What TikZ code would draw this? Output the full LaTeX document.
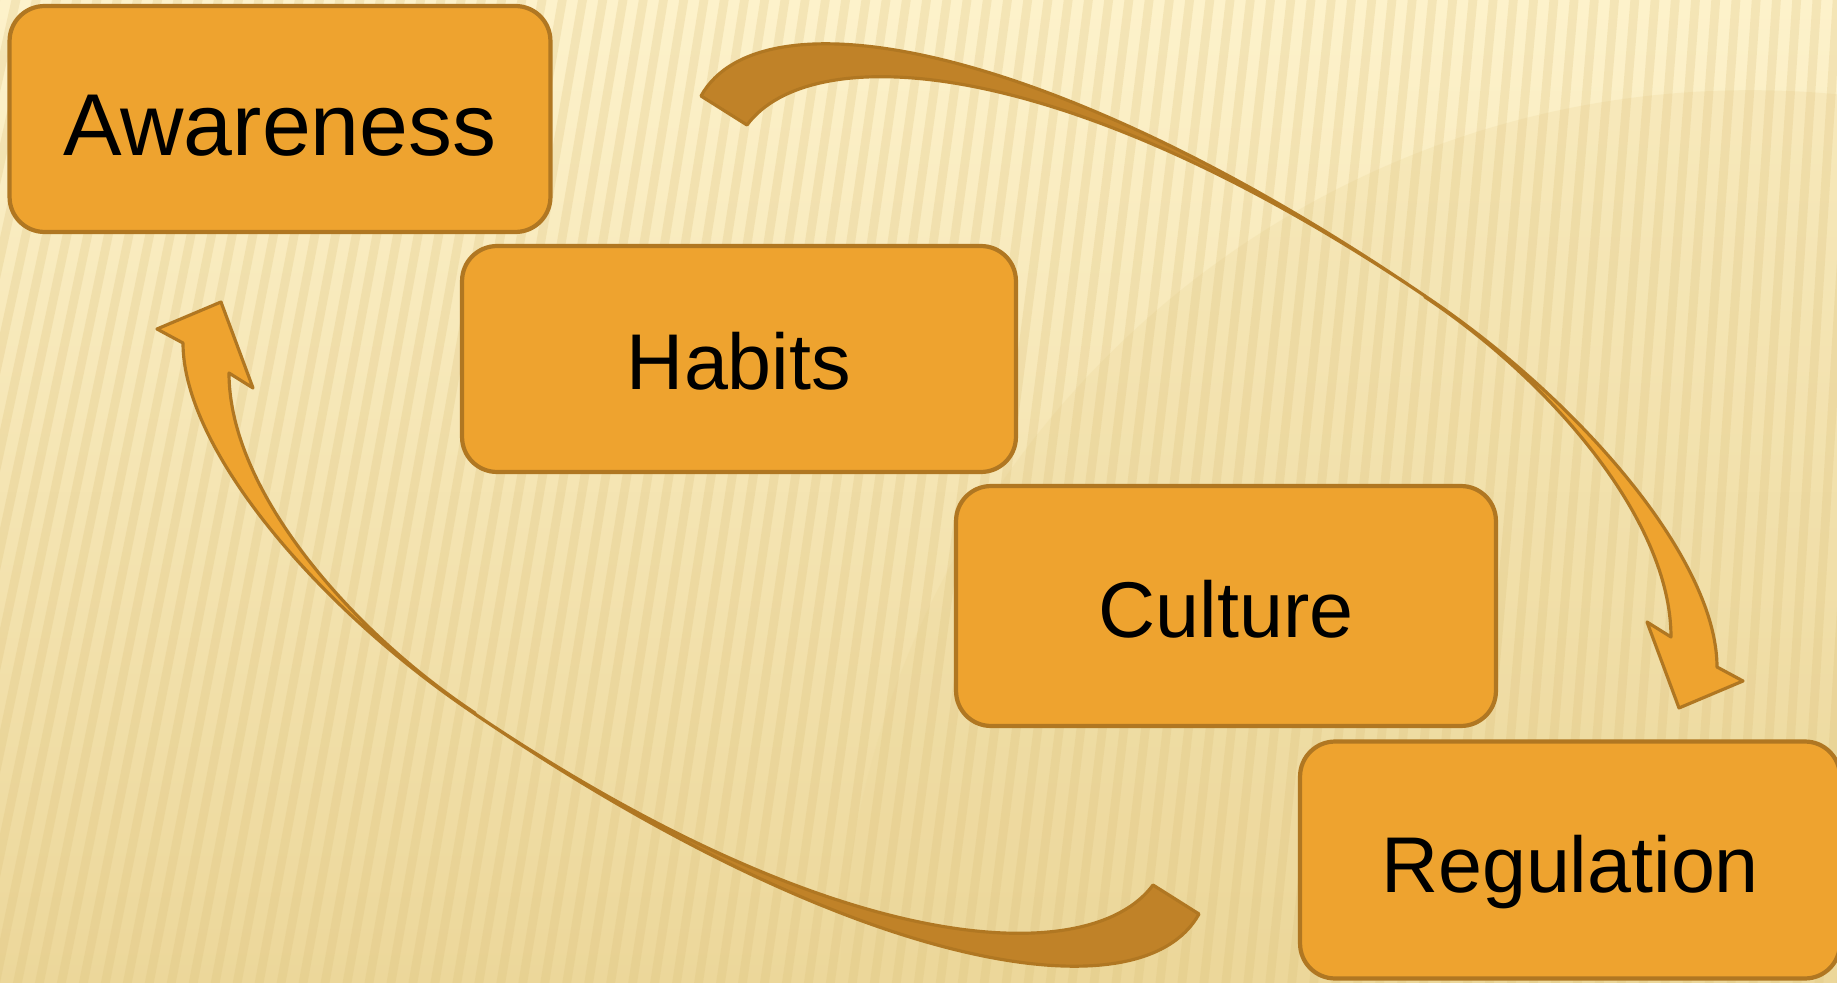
\documentclass[tikz,border=0pt]{standalone}
\usepackage{fontspec}
\setmainfont{Liberation Sans}
\definecolor{bgtop}{HTML}{FDF2CB}
\definecolor{bgbot}{HTML}{ECD79A}
\definecolor{stripecol}{HTML}{DCC07A}
\definecolor{boxfill}{HTML}{EEA32F}
\definecolor{rim}{HTML}{B07722}
\definecolor{backface}{HTML}{C08228}

\begin{document}
\begin{tikzpicture}[x=0.02cm,y=-0.02cm]

	\tikzset{stage/.style = {shape=rectangle,rounded corners=0.7cm,draw=rim,fill=boxfill,line width=2.4pt,inner sep=0pt,text depth=0pt}}
	\tikzset{front/.style = {fill=boxfill,draw=rim,line width=1.8pt,line join=round}}
	\tikzset{back/.style = {fill=backface,draw=rim,line width=1.8pt,line join=round}}
	\tikzset{stripe/.style = {draw=stripecol,line width=5pt,opacity=0.25}}

	% background
	\useasboundingbox (0,0) rectangle (1837,983);
	\clip (0,0) rectangle (1837,983);
	\shade[top color=bgtop,bottom color=bgbot] (0,0) rectangle (1837,983);
	\fill[bgbot,opacity=0.25] (1750,1000) circle [radius=18.2cm];
	\foreach \i in {0,...,95}
		\draw[stripe] ({\i*22-250},1000) -- ({\i*22-20-1.8*\i},-20);

	\node[stage,minimum width=10.82cm,minimum height=4.52cm,text height=41pt,font=\fontsize{50}{60}\selectfont] (aware) at (280,119) {Awareness};
	\node[stage,minimum width=11.08cm,minimum height=4.52cm,text height=35pt,font=\fontsize{45}{54}\selectfont] (habits) at (739,359) {Habits};
	\node[stage,minimum width=10.8cm,minimum height=4.8cm,text height=36pt,font=\fontsize{45}{54}\selectfont] (culture) at (1226,606) {Culture};
	\node[stage,minimum width=10.8cm,minimum height=4.74cm,text height=37pt,font=\fontsize{45}{54}\selectfont] (regul) at (1570,860) {Regulation};

	% the two looping arrows
	\foreach \ang in {0,180}{
	\begin{scope}[rotate around={\ang:(950,505)}]
		\filldraw[back] (701,96) .. controls (760,-10) and (1050,40) .. (1425,296)
			.. controls (1060,50) and (810,40) .. (747,125) -- cycle;
		\filldraw[front] (1425,296) .. controls (1580,400) and (1717,560) .. (1717,667)
			-- (1743,681) -- (1679,708) -- (1647,622) -- (1671,637)
			.. controls (1671,520) and (1550,380) .. (1425,297) -- cycle;
	\end{scope}
	}
\end{tikzpicture}
\end{document}
